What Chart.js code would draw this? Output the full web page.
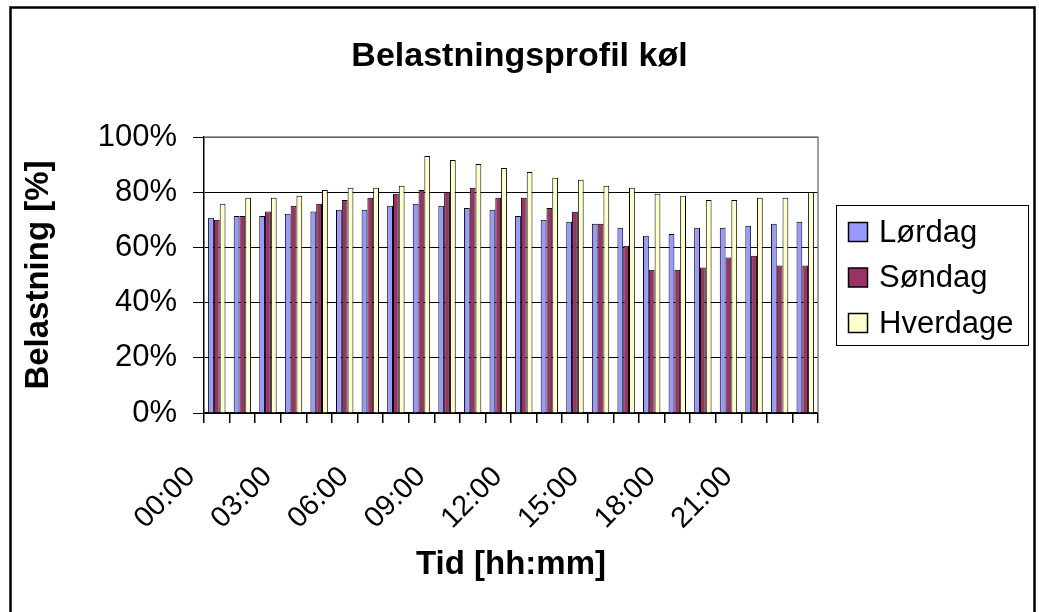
<!DOCTYPE html>
<html>
<head>
<meta charset="utf-8">
<script src="https://cdn.jsdelivr.net/npm/chart.js@4/dist/chart.umd.min.js"></script>
<style>
  html, body { margin: 0; padding: 0; background: #ffffff; }
  #wrap { width: 1039px; height: 612px; }
</style>
</head>
<body>
<div id="wrap"><canvas id="chart" width="1039" height="612"></canvas></div>
<script>
// Hourly load profile for refrigeration, in percent
const hours = ['00:00','01:00','02:00','03:00','04:00','05:00','06:00','07:00',
               '08:00','09:00','10:00','11:00','12:00','13:00','14:00','15:00',
               '16:00','17:00','18:00','19:00','20:00','21:00','22:00','23:00'];
const loerdag  = [70.7, 71.4, 71.4, 72.2, 73.0, 73.6, 73.6, 75.1, 75.8, 75.1, 74.3, 73.6,
                  71.4, 70.0, 69.3, 68.6, 67.1, 64.2, 64.9, 67.1, 67.1, 67.8, 68.6, 69.3];
const soendag  = [70.0, 71.4, 73.0, 75.1, 75.8, 77.2, 78.0, 79.4, 80.8, 80.1, 81.6, 78.0,
                  78.0, 74.3, 72.9, 68.6, 60.6, 51.9, 51.9, 52.7, 56.3, 57.0, 53.4, 53.4];
const hverdage = [75.8, 78.0, 78.0, 78.7, 80.8, 81.6, 81.6, 82.3, 93.1, 91.7, 90.2, 88.8,
                  87.3, 85.2, 84.5, 82.3, 81.6, 79.4, 78.7, 77.2, 77.2, 78.0, 78.0, 80.1];
const seriesNames = ['Lørdag', 'Søndag', 'Hverdage'];
const seriesColors = ['#9999FF', '#993366', '#FFFFCC'];
const yTicks = [0, 20, 40, 60, 80, 100];
const chartTitle = 'Belastningsprofil køl';

const FONT = "'Liberation Sans', Arial, sans-serif";

// Frame around the whole chart, chart title, grey plot-area border and the boxed legend
const decorations = {
  id: 'decorations',
  afterDatasetsDraw(chart) {
    const { ctx, chartArea: a } = chart;
    ctx.save();
    ctx.strokeStyle = '#808080';
    ctx.lineWidth = 1.5;
    ctx.beginPath();
    ctx.moveTo(a.left, a.top);
    ctx.lineTo(a.right, a.top);
    ctx.lineTo(a.right, a.bottom);
    ctx.stroke();
    ctx.restore();
  },
  afterDraw(chart) {
    const { ctx, width } = chart;
    ctx.save();
    // outer frame
    ctx.strokeStyle = '#000000';
    ctx.lineWidth = 2.5;
    ctx.strokeRect(10.5, 7.5, 1024, 620);

    // title, centred on the whole chart
    ctx.fillStyle = '#000000';
    ctx.font = 'bold 34px ' + FONT;
    ctx.textAlign = 'center';
    ctx.textBaseline = 'middle';
    ctx.fillText(chartTitle, width / 2, 57);

    // legend box
    const lx = 836, ly = 205, lw = 192, lh = 140;
    ctx.lineWidth = 1;
    ctx.strokeRect(lx + 0.5, ly + 0.5, lw, lh);
    ctx.font = '31px ' + FONT;
    ctx.textBaseline = 'middle';
    ctx.textAlign = 'left';
    chart.data.datasets.forEach((ds, i) => {
      const cy = 232 + i * 45.5;
      ctx.fillStyle = ds.backgroundColor;
      ctx.fillRect(848.5, cy - 9.5, 19, 19);
      ctx.strokeStyle = '#000000';
      ctx.lineWidth = 1.5;
      ctx.strokeRect(848.5, cy - 9.5, 19, 19);
      ctx.fillStyle = '#000000';
      ctx.fillText(ds.label, 879, cy + 1);
    });
    ctx.restore();
  }
};

const makeSet = (i, data) => ({
  label: seriesNames[i],
  data: data,
  backgroundColor: seriesColors[i],
  borderColor: '#000000',
  borderWidth: 1,
  borderSkipped: 'bottom',
  categoryPercentage: 0.68,
  barPercentage: 1.0
});

new Chart(document.getElementById('chart'), {
  type: 'bar',
  data: {
    labels: hours,
    datasets: [makeSet(0, loerdag), makeSet(1, soendag), makeSet(2, hverdage)]
  },
  options: {
    responsive: false,
    animation: false,
    devicePixelRatio: 1,
    layout: { padding: { left: 10, right: 221, top: 137, bottom: 0 } },
    plugins: {
      legend: { display: false },
      tooltip: { enabled: false },
      title: { display: false }
    },
    scales: {
      x: {
        afterFit(scale) { scale.height = 199; },
        border: { display: true, color: '#000000', width: 1.5 },
        grid: {
          offset: true,
          drawOnChartArea: false,
          drawTicks: true,
          tickLength: 10,
          color: '#000000',
          lineWidth: 1.5
        },
        ticks: {
          autoSkip: false,
          minRotation: 45,
          maxRotation: 45,
          padding: 37,
          labelOffset: -26,
          color: '#000000',
          font: { family: FONT, size: 29 },
          callback(value, index) {
            return index % 3 === 0 ? hours[index] : '';
          }
        },
        title: {
          display: true,
          text: 'Tid [hh:mm]',
          color: '#000000',
          font: { family: FONT, size: 33, weight: 'bold' },
          padding: { top: 0, bottom: 27 }
        }
      },
      y: {
        min: 0,
        max: 100,
        afterFit(scale) { scale.width = 194; },
        afterBuildTicks(scale) { scale.ticks = yTicks.map(v => ({ value: v })); },
        border: { display: true, color: '#000000', width: 1.5 },
        grid: {
          color: '#000000',
          lineWidth: 1,
          drawTicks: true,
          tickLength: 11
        },
        ticks: {
          padding: 16,
          color: '#000000',
          font: { family: FONT, size: 31 },
          callback(value) { return value + '%'; }
        },
        title: {
          display: true,
          text: 'Belastning [%]',
          color: '#000000',
          font: { family: FONT, size: 33, weight: 'bold' },
          padding: { top: 9, bottom: 0 }
        }
      }
    }
  },
  plugins: [decorations]
});
</script>
</body>
</html>
